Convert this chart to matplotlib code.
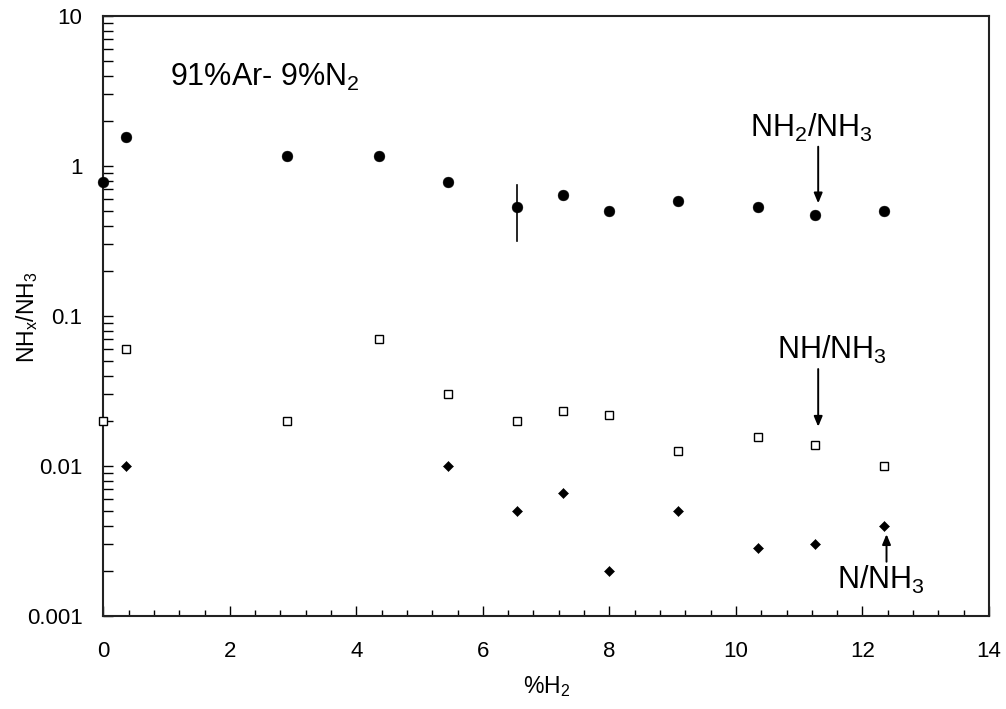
import matplotlib
matplotlib.use("Agg")
import matplotlib.pyplot as plt
from matplotlib.ticker import FixedLocator, FuncFormatter, MultipleLocator, LogLocator

plt.rcParams['font.family'] = ['Liberation Sans', 'DejaVu Sans']
plt.rcParams['mathtext.default'] = 'regular'

# NH2/NH3 (filled circles)
x_nh2 = [0.0, 0.36, 2.9, 4.36, 5.45, 6.54, 7.26, 7.99, 9.09, 10.35, 11.25, 12.34]
y_nh2 = [0.78, 1.55, 1.17, 1.17, 0.78, 0.533, 0.644, 0.503, 0.581, 0.536, 0.474, 0.503]
# error bar on one NH2 point
err_x = 6.54
err_lo = 0.318
err_hi = 0.747

# NH/NH3 (open squares)
x_nh = [0.0, 0.36, 2.9, 4.36, 5.45, 6.54, 7.26, 7.99, 9.09, 10.35, 11.25, 12.34]
y_nh = [0.020, 0.060, 0.020, 0.070, 0.030, 0.020, 0.0233, 0.022, 0.0125, 0.0157, 0.0139, 0.010]

# N/NH3 (filled diamonds)
x_n = [0.36, 5.45, 6.54, 7.26, 7.99, 9.09, 10.35, 11.25, 12.34]
y_n = [0.010, 0.010, 0.0050, 0.0066, 0.0020, 0.0050, 0.00286, 0.0030, 0.0040]

x_ticks = [0, 2, 4, 6, 8, 10, 12, 14]
y_ticks = [0.001, 0.01, 0.1, 1, 10]
y_tick_labels = ['0.001', '0.01', '0.1', '1', '10']

fig = plt.figure(figsize=(10.06, 7.09), dpi=100)
ax = fig.add_axes([103.3 / 1006, 1 - 616 / 709, (989 - 103.3) / 1006, (616 - 16) / 709])

ax.set_yscale('log')
ax.set_xlim(0, 14)
ax.set_ylim(0.001, 10)

ax.plot([err_x, err_x], [err_lo, err_hi], color='black', lw=1.2, zorder=2, clip_on=False)
ax.plot(x_nh2, y_nh2, 'o', color='black', ms=7.8, mec='black', mew=0.3, ls='none', clip_on=False, zorder=3)
ax.plot(x_nh, y_nh, 's', mfc='white', mec='black', ms=5.4, mew=1.0, ls='none', clip_on=False, zorder=3)
ax.plot(x_n, y_n, 'D', color='black', ms=4.6, mec='black', mew=0.4, ls='none', clip_on=False, zorder=3)

ax.xaxis.set_major_locator(FixedLocator(x_ticks))
ax.xaxis.set_minor_locator(MultipleLocator(0.4))
ax.yaxis.set_major_locator(FixedLocator(y_ticks))
ax.yaxis.set_major_formatter(FuncFormatter(lambda v, p: y_tick_labels[y_ticks.index(min(y_ticks, key=lambda t: abs(t - v)))]))
ax.yaxis.set_minor_locator(LogLocator(base=10, subs=range(2, 10)))
ax.yaxis.set_minor_formatter(FuncFormatter(lambda v, p: ''))

ax.tick_params(axis='both', which='major', direction='in', length=7, width=1.0, labelsize=16)
ax.tick_params(axis='x', which='major', pad=18)
ax.tick_params(axis='y', which='major', pad=15)
ax.tick_params(axis='x', which='minor', direction='in', length=4, width=1.0)
ax.tick_params(axis='y', which='minor', direction='in', length=7, width=1.0)
for s in ax.spines.values():
    s.set_linewidth(1.5)
    s.set_color('#222222')

ax.set_xlabel('%H$_2$', fontsize=16.5)
ax.set_ylabel('NH$_x$/NH$_3$', fontsize=16.5)
ax.xaxis.set_label_coords(0.5, -0.097)
ax.yaxis.set_label_coords(-0.072, 0.4975)

ax.text(1.056, 3.92, '91%Ar- 9%N$_2$', fontsize=22, ha='left', va='center')

arrow = dict(arrowstyle='-|>,head_length=0.6,head_width=0.25', color='black', lw=1.4, shrinkA=0, shrinkB=0)
ax.text(11.19, 1.79, 'NH$_2$/NH$_3$', fontsize=22, ha='center', va='center')
ax.annotate('', xy=(11.30, 0.564), xytext=(11.30, 1.345), arrowprops=arrow)
ax.text(11.52, 0.0593, 'NH/NH$_3$', fontsize=22, ha='center', va='center')
ax.annotate('', xy=(11.30, 0.01828), xytext=(11.30, 0.0443), arrowprops=arrow)
ax.text(12.29, 0.00174, 'N/NH$_3$', fontsize=22, ha='center', va='center')
ax.annotate('', xy=(12.38, 0.00351), xytext=(12.38, 0.0023), arrowprops=arrow)

fig.savefig('out.png', dpi=100)
